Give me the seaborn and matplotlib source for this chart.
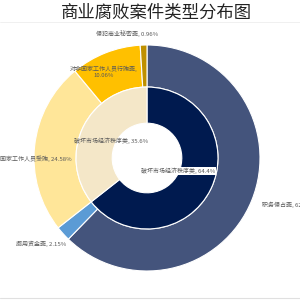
import matplotlib
matplotlib.use("Agg")
import matplotlib.pyplot as plt
import seaborn as sns
from matplotlib.lines import Line2D

sns.set_theme(style="white")
plt.rcParams['font.family'] = ['Noto Sans CJK SC', 'DejaVu Sans']

title = "商业腐败案件类型分布图"
outer_labels = ["职务侵占罪", "挪用资金罪", "非国家工作人员受贿", "对非国家工作人员行贿罪", "侵犯商业秘密罪"]
outer_values = [62.25, 2.15, 24.58, 10.06, 0.96]
outer_texts = ["职务侵占罪, 62.25%", "挪用资金罪, 2.15%", "非国家工作人员受贿, 24.58%",
               "对非国家工作人员行贿罪,\n10.06%", "侵犯商业秘密罪, 0.96%"]
outer_colors = ["#44547c", "#5b9bd5", "#ffe699", "#ffc000", "#bf9000"]

inner_labels = ["破坏市场经济秩序类", "破坏市场经济秩序类"]
inner_values = [64.4, 35.6]
inner_texts = ["破坏市场经济秩序类, 64.4%", "破坏市场经济秩序类, 35.6%"]
inner_colors = ["#001a4f", "#f4e7c8"]

# label anchor positions in pixels (x, y from top) and alignment
outer_pos = [(262, 205, 'left'), (41, 244, 'center'), (72, 159, 'right'), (104, 72, 'center'), (127, 34, 'center')]
inner_pos = [(178, 171, 'center'), (111, 141, 'center')]

CX, CY, R = 147, 158, 113.0

fig = plt.figure(figsize=(3, 3), dpi=100)
fig.patch.set_facecolor("white")
ax = fig.add_axes([0, 0, 1, 1])
ax.set_aspect('equal')
ax.axis('off')

ax.pie(outer_values, radius=1.0, colors=outer_colors, startangle=90, counterclock=False,
       wedgeprops=dict(width=0.372, edgecolor='white', linewidth=0.8))
ax.pie(inner_values, radius=0.628, colors=inner_colors, startangle=90, counterclock=False,
       wedgeprops=dict(width=0.32, edgecolor='white', linewidth=0.8))
ax.set_xlim(-CX / R, (300 - CX) / R)
ax.set_ylim(-(300 - CY) / R, CY / R)

def to_data(px, py):
    return (px - CX) / R, (CY - py) / R

for t, (px, py, ha) in zip(outer_texts, outer_pos):
    x, y = to_data(px, py)
    ax.text(x, y, t, ha=ha, va='center', fontsize=4.3, color='#595959', multialignment='center',
            linespacing=1.4)

for i, (t, (px, py, ha)) in enumerate(zip(inner_texts, inner_pos)):
    x, y = to_data(px, py)
    kw = {}
    if i == 0:
        kw['bbox'] = dict(boxstyle='square,pad=0.15', fc='white', ec='none')
    ax.text(x, y, t, ha=ha, va='center', fontsize=4.3, color='#595959', **kw)

fig.text(0.52, 0.958, title, ha='center', va='center', fontsize=12.5, color='#222222',
         fontweight='light')
fig.add_artist(Line2D([0.0, 1.0], [0.928, 0.928], color='#eeeeee', linewidth=0.6))
fig.add_artist(Line2D([0.0, 1.0], [0.006, 0.006], color='#e0e0e0', linewidth=0.8))

fig.savefig("out.png", dpi=100, facecolor='white')
